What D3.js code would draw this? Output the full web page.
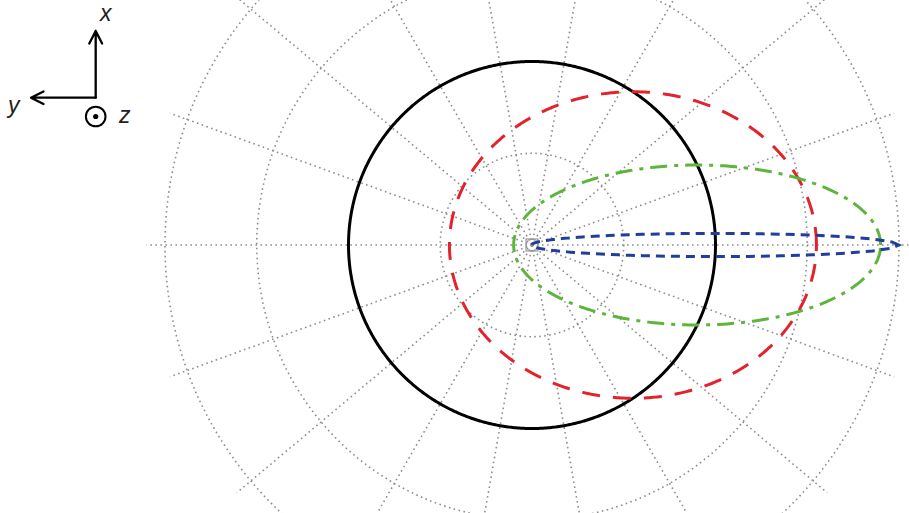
<!DOCTYPE html>
<html>
<head>
<meta charset="utf-8">
<script src="https://cdn.jsdelivr.net/npm/d3@7"></script>
<style>
  html, body { margin: 0; padding: 0; background: #fff; }
  svg { display: block; }
</style>
</head>
<body>
<svg id="chart" width="909" height="513"></svg>
<script>
// Speeds (v/c) of the emitting source, one closed curve per value
const betas = [0, 0.55, 0.9, 0.998];
const curveColors = ["#000000", "#e3232b", "#5db53c", "#203f9c"];
const curveDashes = [null, "18,13", "17,7,4,7", "9,6"];

// Polar grid: ring radii (in units of the rest-frame radius) and spoke angles (deg)
const ringRadii = [0.5, 1, 1.5, 2];
const spokeAngles = [0, 20, 40, 60, 80, 100, 120, 140, 160, 180, 200, 220, 240, 260, 280, 300, 320, 340];
const spokeLength = 2.1;

const svg = d3.select("#chart");
const cx = 532, cy = 245;
const r = d3.scaleLinear().domain([0, 1]).range([0, 183.5]);

const plot = svg.append("g").attr("transform", `translate(${cx},${cy})`);

// grid
const grid = plot.append("g")
  .attr("fill", "none")
  .attr("stroke", "#8e8e8e")
  .attr("stroke-width", 1.6)
  .attr("stroke-dasharray", "1.6,3.4");

grid.selectAll("circle.ring").data(ringRadii).join("circle")
  .attr("class", "ring")
  .attr("r", d => r(d));

grid.selectAll("line.spoke").data(spokeAngles).join("line")
  .attr("class", "spoke")
  .attr("x1", 0).attr("y1", 0)
  .attr("x2", d => r(spokeLength) * Math.cos(d * Math.PI / 180))
  .attr("y2", d => -r(spokeLength) * Math.sin(d * Math.PI / 180));

// source marker at the origin
plot.append("rect")
  .attr("x", -6).attr("y", -6)
  .attr("width", 12).attr("height", 12)
  .attr("fill", "none")
  .attr("stroke", "#8a8a8a")
  .attr("stroke-width", 1);

// Emission curve: conic with focus at the source, eccentricity = beta
const thetas = d3.range(0, 720).map(i => i * Math.PI / 360);
const radial = d3.lineRadial()
  .angle(t => Math.PI / 2 - t)
  .curve(d3.curveLinearClosed);

plot.selectAll("path.emission").data(betas).join("path")
  .attr("class", "emission")
  .attr("d", b => radial.radius(t => r((1 - b * b) / (1 - b * Math.cos(t))))(thetas))
  .attr("fill", "none")
  .attr("stroke", (b, i) => curveColors[i])
  .attr("stroke-width", 3)
  .attr("stroke-dasharray", (b, i) => curveDashes[i]);

// coordinate-system glyph
const axes = svg.append("g")
  .attr("stroke", "#000")
  .attr("stroke-width", 2.3)
  .attr("fill", "none")
  .attr("stroke-linecap", "round")
  .attr("stroke-linejoin", "round");

axes.append("path").attr("d", "M95.7,97.7 V31 M89.3,43.5 L95.7,31 L102.1,43.5");
axes.append("path").attr("d", "M95.7,97.7 H31 M43.5,91.5 L31,97.7 L43.5,104");
axes.append("circle").attr("cx", 95.7).attr("cy", 116.5).attr("r", 9.8).attr("stroke-width", 2);
svg.append("circle").attr("cx", 95.7).attr("cy", 116.5).attr("r", 2.6).attr("fill", "#000");

const labels = svg.append("g")
  .attr("font-family", "'Liberation Sans', Arial, sans-serif")
  .attr("font-style", "italic")
  .attr("font-size", 23)
  .attr("fill", "#222");

labels.append("text").attr("x", 100).attr("y", 21).text("x");
labels.append("text").attr("x", 8).attr("y", 113).text("y");
labels.append("text").attr("x", 119).attr("y", 123).text("z");
</script>
</body>
</html>
